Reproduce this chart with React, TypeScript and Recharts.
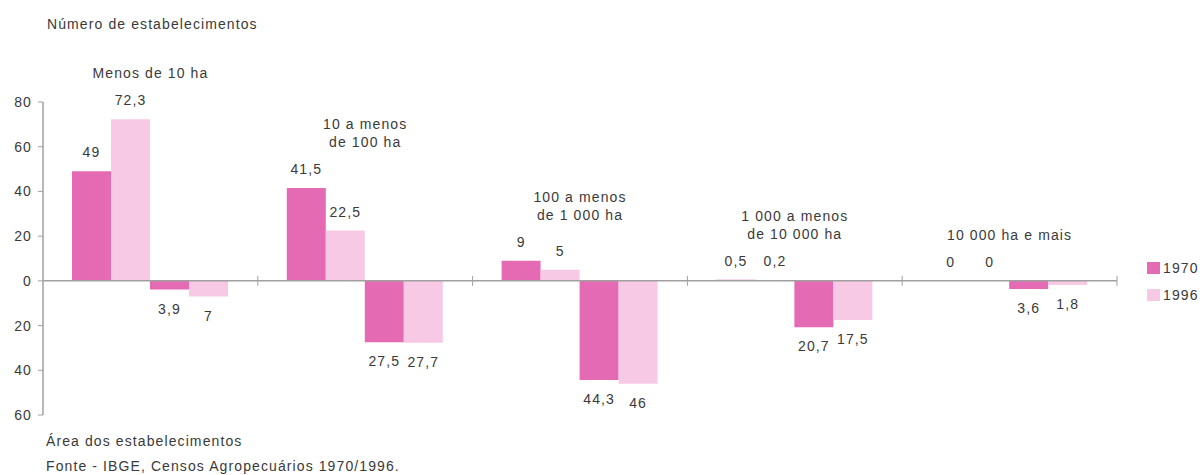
import React from "react";
import { ComposedChart, Bar, Line, XAxis, YAxis, ReferenceLine, LabelList } from "recharts";

// ── Data ─────────────────────────────────────────────────────────────────────

const categories = ["<10", "10-100", "100-1000", "1000-10000", ">=10000"];
const categoryLines = [
  ["Menos de 10 ha"],
  ["10 a menos", "de 100 ha"],
  ["100 a menos", "de 1 000 ha"],
  ["1 000 a menos", "de 10 000 ha"],
  ["10 000 ha e mais"],
];
// Número de estabelecimentos (%)
const count1970 = [49, 41.5, 9, 0.5, 0];
const count1996 = [72.3, 22.5, 5, 0.2, 0];
// Área dos estabelecimentos (%), drawn below zero
const area1970 = [3.9, 27.5, 44.3, 20.7, 3.6];
const area1996 = [7, 27.7, 46, 17.5, 1.8];
const yTicks = [-60, -40, -20, 0, 20, 40, 60, 80];

const COLOR_1970 = "#e46ab4";
const COLOR_1996 = "#f7c9e5";
const TEXT = "#3a3a3a";
const AXIS = "#a0a0a0";
const FONT = "'Liberation Sans', Arial, sans-serif";

const data = categories.map((c, i) => ({
  name: c,
  c70: count1970[i],
  c96: count1996[i],
  a70: -area1970[i],
  a96: -area1996[i],
  top: Math.max(count1970[i], count1996[i]),
}));

const fmt = (v: number) => String(Math.abs(v)).replace(".", ",");

// zero-valued bars still need a rectangle so their label gets drawn
const tinyForZero = (v: any) => (v === 0 ? 0.01 : 0);

// value label: above positive bars, below negative ones
const ValueLabel = (props: any) => {
  const { x, y, width, height, value } = props;
  const top = Math.min(y, y + height);
  const bottom = Math.max(y, y + height);
  const cy = value < 0 ? bottom + 19 : top - 19;
  return (
    <text
      x={x + width / 2}
      y={cy}
      textAnchor="middle"
      dominantBaseline="central"
      fill={TEXT}
      fontSize={14}
      letterSpacing={1.1}
      fontFamily={FONT}
    >
      {fmt(value)}
    </text>
  );
};

// category name above each group
const CategoryLabel = (props: any) => {
  const { x, y, index } = props;
  const lines = categoryLines[index] || [];
  return (
    <g>
      {lines.map((l, k) => (
        <text
          key={k}
          x={x}
          y={y - 46 - (lines.length - 1 - k) * 18}
          textAnchor="middle"
          dominantBaseline="central"
          fill={TEXT}
          fontSize={14}
          letterSpacing={1.1}
          fontFamily={FONT}
        >
          {l}
        </text>
      ))}
    </g>
  );
};

// zero line with group separators
const ZeroLine = (props: any) => {
  const { x1, y1, x2 } = props;
  const step = (x2 - x1) / categories.length;
  return (
    <g>
      <line x1={x1} y1={y1} x2={x2} y2={y1} stroke={AXIS} strokeWidth={1.5} />
      {categories.map((_, i) => {
        const xx = x1 + step * (i + 1);
        return <line key={i} x1={xx} y1={y1 - 5} x2={xx} y2={y1 + 5} stroke={AXIS} strokeWidth={1} />;
      })}
    </g>
  );
};

const textStyle: React.CSSProperties = {
  position: "absolute",
  fontFamily: FONT,
  fontSize: 14,
  letterSpacing: 1.1,
  color: TEXT,
  whiteSpace: "nowrap",
  lineHeight: "16px",
};

export default function App() {
  return (
    <div style={{ position: "absolute", left: 0, top: 0, width: 1200, height: 475, background: "#fff", overflow: "hidden" }}>
      <div style={{ ...textStyle, left: 47, top: 16 }}>Número de estabelecimentos</div>
      <div style={{ ...textStyle, left: 46, top: 433 }}>Área dos estabelecimentos</div>
      <div style={{ ...textStyle, left: 46, top: 458 }}>Fonte - IBGE, Censos Agropecuários 1970/1996.</div>

      {/* legend */}
      <div style={{ ...textStyle, left: 1147, top: 259 }}>
        <span style={{ display: "inline-block", width: 13, height: 12, background: COLOR_1970, verticalAlign: "middle", marginRight: 3 }} />
        <span style={{ verticalAlign: "middle" }}>1970</span>
      </div>
      <div style={{ ...textStyle, left: 1147, top: 286 }}>
        <span style={{ display: "inline-block", width: 13, height: 12, background: COLOR_1996, verticalAlign: "middle", marginRight: 3 }} />
        <span style={{ verticalAlign: "middle" }}>1996</span>
      </div>

      <ComposedChart
        width={1200}
        height={475}
        data={data}
        margin={{ top: 102, right: 83, bottom: 60, left: 0 }}
        barCategoryGap="13.5%"
        barGap={0}
      >
        <XAxis dataKey="name" hide />
        <YAxis
          width={43}
          domain={[-60, 80]}
          ticks={yTicks}
          interval={0}
          tickFormatter={(v: number) => String(Math.abs(v))}
          axisLine={{ stroke: AXIS, strokeWidth: 1.5 }}
          tickLine={{ stroke: AXIS }}
          tickSize={5}
          tickMargin={6}
          tick={{ fill: TEXT, fontSize: 14, fontFamily: FONT, letterSpacing: 1.1 }}
        />
        <Bar dataKey="c70" fill={COLOR_1970} minPointSize={tinyForZero} isAnimationActive={false}>
          <LabelList dataKey="c70" content={ValueLabel} />
        </Bar>
        <Bar dataKey="c96" fill={COLOR_1996} minPointSize={tinyForZero} isAnimationActive={false}>
          <LabelList dataKey="c96" content={ValueLabel} />
        </Bar>
        <Bar dataKey="a70" fill={COLOR_1970} isAnimationActive={false}>
          <LabelList dataKey="a70" content={ValueLabel} />
        </Bar>
        <Bar dataKey="a96" fill={COLOR_1996} isAnimationActive={false}>
          <LabelList dataKey="a96" content={ValueLabel} />
        </Bar>
        <Line dataKey="top" stroke="none" dot={false} activeDot={false} isAnimationActive={false}>
          <LabelList dataKey="top" content={CategoryLabel} />
        </Line>
        <ReferenceLine y={0} shape={ZeroLine} />
      </ComposedChart>
    </div>
  );
}
